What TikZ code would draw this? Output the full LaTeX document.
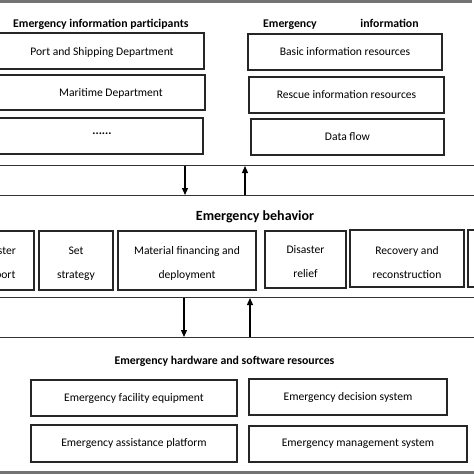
\documentclass[tikz,border=0pt]{standalone}
\usepackage{fontspec}
\setmainfont{Carlito}
\usetikzlibrary{arrows.meta}
\tikzset{
  box/.style={draw=black!85, line width=1.3pt, inner sep=0pt, font=\fontsize{11.6}{13}\selectfont, align=center},
  bbox/.style={box},
  blbl/.style={inner sep=0pt, align=center, font=\fontsize{11.6}{24}\selectfont, yshift=-3pt},
  txt/.style={inner sep=0pt, font=\fontsize{11.6}{13}\selectfont},
  ttl/.style={inner sep=0pt, font=\fontsize{11.8}{13}\selectfont\bfseries},
  band/.style={draw=none, minimum width=500pt, inner sep=0pt},
  bandline/.style={draw=black!80, line width=1.2pt},
  arr/.style={draw=black, line width=1.2pt, -{Triangle[width=6pt,length=7pt]}},
  grayrule/.style={fill=black!55, draw=none}
}
\begin{document}
\begin{tikzpicture}[x=1pt,y=-1pt]
\useasboundingbox (0,0) rectangle (474,474);
\fill[white] (0,0) rectangle (474,474);
% gray rules
\fill[grayrule] (0,0) rectangle (472,2.5);
\fill[grayrule] (0,471) rectangle (474,474);

% top-left group
\node[ttl, anchor=west] (tlt) at (13,24) {Emergency information participants};
\node[box, minimum width=214pt, minimum height=36pt] (port) at (97,51) {};
\node[txt] (portt) at (102,52) {Port and Shipping Department};
\node[box, minimum width=215pt, minimum height=35pt] (mar) at (97.5,92.5) {};
\node[txt] (mart) at (111,93) {Maritime Department};
\node[box, minimum width=213pt, minimum height=36pt] (dots) at (96.5,136) {};
\node[txt, font=\fontsize{12}{13}\selectfont\bfseries] (dotst) at (102,134) {......};

% top-right group
\node[ttl, anchor=west] (trt) at (263,24) {Emergency\hspace{41pt} information};
\node[box, minimum width=194pt, minimum height=36pt] (basic) at (345,52) {Basic information resources};
\node[box, minimum width=195pt, minimum height=36pt] (rescue) at (346.5,95) {Rescue information resources};
\node[box, minimum width=193pt, minimum height=36pt] (flow) at (347.5,137) {Data flow};

% band 1
\node[band, minimum height=29pt] (band1) at (237,180.5) {};
\draw[bandline] (band1.north west) -- (band1.north east);
\draw[bandline] (band1.south west) -- (band1.south east);
\coordinate (d1a) at (185,166);
\coordinate (d1b) at (185,195);
\coordinate (u1a) at (245,195);
\coordinate (u1b) at (245,166);
\draw[arr] (d1a) -- (d1b);
\draw[arr] (u1a) -- (u1b);

% behaviour
\node[ttl, font=\fontsize{14}{16}\selectfont\bfseries] (beh) at (255,217) {Emergency behavior};
\node[bbox, minimum width=74pt, minimum height=59pt, label={[blbl]center:Disaster\\support}] (sup) at (-3,260.5) {};
\node[bbox, minimum width=74pt, minimum height=59pt, label={[blbl]center:Set\\strategy}] (set) at (76,260.5) {};
\node[bbox, minimum width=138pt, minimum height=59pt, label={[blbl]center:Material financing and\\deployment}] (mat) at (187,260.5) {};
\node[bbox, minimum width=81pt, minimum height=57pt, label={[blbl, yshift=1pt]center:Disaster\\relief}] (rel) at (305.5,259.5) {};
\node[bbox, minimum width=114pt, minimum height=57pt, label={[blbl, yshift=-1.5pt]center:Recovery and\\reconstruction}] (rec) at (407,258.5) {};
\node[bbox, minimum width=70pt, minimum height=57pt] (cut) at (503,258.5) {};

% band 2
\node[band, minimum height=39pt] (band2) at (237,317.5) {};
\draw[bandline] (band2.north west) -- (band2.north east);
\draw[bandline] (band2.south west) -- (band2.south east);
\coordinate (d2a) at (184,298);
\coordinate (d2b) at (184,337);
\coordinate (u2a) at (250,337);
\coordinate (u2b) at (250,298);
\draw[arr] (d2a) -- (d2b);
\draw[arr] (u2a) -- (u2b);

% bottom group
\node[ttl] (bt) at (224.5,361) {Emergency hardware and software resources};
\node[box, minimum width=206pt, minimum height=36pt] (fac) at (134,398) {Emergency facility equipment};
\node[box, minimum width=206pt, minimum height=37pt] (ass) at (134,443.5) {Emergency assistance platform};
\node[box, minimum width=198pt, minimum height=36pt] (dec) at (348,397) {Emergency decision system};
\node[box, minimum width=218pt, minimum height=36pt] (man) at (358,444) {Emergency management system};
\end{tikzpicture}
\end{document}
